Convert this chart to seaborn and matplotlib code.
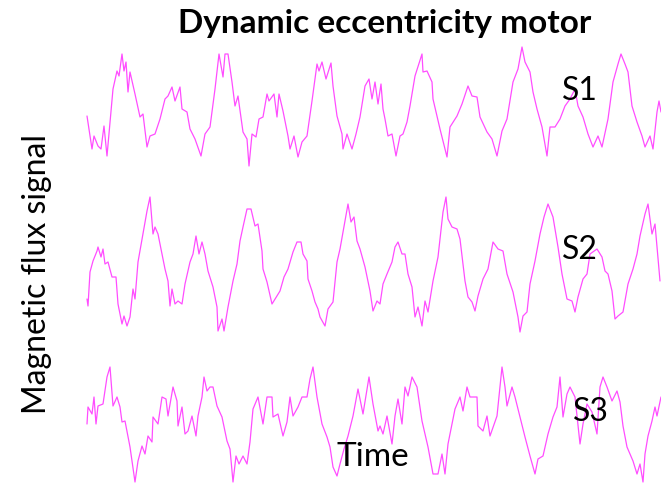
import matplotlib
matplotlib.use("Agg")
import matplotlib.pyplot as plt
import seaborn as sns
import pandas as pd

# ---- data (time in arbitrary units, flux amplitude) ----
s1_time = [87, 92, 94, 98, 101, 104, 107, 113, 117, 119, 122, 124, 126, 128, 130, 135, 140, 143, 147, 150,
           155, 160, 165, 168, 172, 175, 180, 182, 187, 190, 195, 201, 205, 210, 215, 219, 223, 225, 228, 232,
           235, 238, 243, 247, 249, 252, 256, 259, 263, 267, 269, 274, 277, 279, 283, 288, 290, 294, 298, 302,
           307, 312, 317, 319, 322, 326, 331, 333, 337, 342, 343, 347, 352, 356, 360, 365, 369, 372, 375, 378,
           381, 383, 385, 388, 392, 396, 400, 403, 407, 410, 415, 422, 423, 427, 432, 433, 440, 445, 447, 450,
           457, 462, 468, 472, 477, 480, 487, 492, 497, 502, 507, 513, 518, 522, 525, 530, 533, 537, 542, 547,
           550, 555, 560, 565, 570, 575, 578, 583, 588, 593, 598, 602, 608, 613, 618, 621, 625, 628, 632, 637,
           642, 645, 650, 653, 657, 659, 661]
s1_flux = [-7, -40, -27, -37, -40, -17, -47, 20, 38, 33, 55, 38, 47, 17, 37, 15, -8, -5, -38, -27,
           -25, -10, 10, 13, 22, 8, 22, 0, -3, -20, -30, -47, -25, -18, 20, 55, 32, 55, 55, 27,
           3, 13, -23, -30, -57, -25, -28, -10, -8, 15, 8, 15, -8, 15, -2, -27, -40, -27, -48, -33,
           -27, 8, 45, 38, 47, 30, 46, 23, -7, -25, -40, -25, -40, -25, -8, 23, 30, 10, 27, 5,
           25, 0, -10, -27, -25, -47, -27, -25, -13, 3, 33, 55, 37, 38, 27, 10, -20, -40, -48, -18,
           -7, 5, 23, 13, 12, -8, -23, -30, -47, -22, -10, 27, 40, 62, 47, 37, 17, 0, -18, -47,
           -18, -18, -10, 3, 10, 20, 3, -8, -25, -38, -27, -38, -10, 27, 45, 55, 45, 37, 3, -13,
           -27, -38, -27, -40, -3, 8, -3]

s2_time = [87, 88, 90, 93, 97, 98, 101, 103, 105, 108, 112, 116, 118, 122, 124, 127, 130, 133, 135, 138,
           143, 147, 150, 153, 155, 158, 162, 165, 168, 170, 172, 175, 178, 182, 185, 190, 193, 196, 199, 202,
           205, 208, 213, 217, 218, 222, 224, 228, 233, 237, 240, 243, 247, 251, 255, 258, 262, 263, 267, 272,
           277, 280, 284, 288, 293, 297, 301, 303, 307, 308, 312, 315, 318, 320, 325, 328, 333, 337, 340, 345,
           348, 351, 354, 357, 360, 365, 370, 373, 377, 380, 383, 387, 392, 395, 398, 402, 405, 408, 412, 415,
           418, 422, 425, 428, 433, 438, 443, 446, 448, 452, 457, 460, 465, 468, 472, 475, 478, 483, 488, 493,
           498, 503, 507, 513, 518, 520, 523, 527, 530, 535, 540, 544, 548, 553, 558, 562, 567, 572, 575, 578,
           583, 587, 590, 597, 602, 605, 608, 612, 615, 618, 623, 628, 633, 637, 640, 645, 648, 652, 655, 660]
s2_flux = [-32, -39, -5, 6, 16, 20, 10, 18, 3, 5, -10, -10, -37, -57, -49, -59, -50, -22, -32, 5,
           33, 56, 70, 33, 40, 33, 13, -2, -14, -39, -22, -37, -34, -37, -17, 5, 13, 31, 13, 25,
           13, -4, -20, -40, -64, -52, -64, -40, -14, 3, 26, 40, 58, 58, 41, 43, 16, -2, -15, -37,
           -29, -24, -10, -2, 15, 25, 25, 13, 6, -12, -24, -35, -42, -50, -59, -42, -35, 5, 18, 46,
           63, 45, 50, 26, 18, 0, -24, -44, -34, -37, -17, -7, 5, 20, 25, 13, 13, -7, -20, -50,
           -40, -59, -34, -45, -14, 10, 55, 70, 48, 40, 38, 28, -14, -30, -35, -44, -29, -12, -2, 25,
           18, 16, -7, -25, -50, -65, -49, -45, -17, 6, 33, 50, 63, 50, 20, -7, -32, -34, -45, -30,
           -12, -7, 13, 18, 10, -4, -7, -24, -52, -49, -45, -17, -2, 13, 31, 53, 63, 33, 43, -14]

s3_time = [87, 88, 92, 94, 96, 98, 103, 107, 110, 113, 117, 120, 122, 125, 130, 135, 138, 142, 145, 148,
           152, 153, 158, 162, 166, 168, 173, 177, 178, 182, 185, 188, 192, 196, 198, 202, 204, 207, 210, 213,
           217, 222, 227, 230, 233, 236, 239, 243, 247, 250, 253, 258, 263, 267, 272, 273, 278, 283, 287, 290,
           293, 298, 302, 307, 310, 313, 317, 322, 327, 330, 333, 337, 340, 344, 348, 353, 358, 363, 369, 373,
           378, 380, 383, 387, 392, 395, 398, 402, 405, 408, 412, 417, 422, 428, 433, 438, 442, 445, 448, 455,
           460, 463, 467, 470, 477, 478, 483, 487, 490, 497, 502, 505, 507, 512, 515, 520, 525, 530, 535, 538,
           543, 548, 553, 557, 560, 563, 567, 570, 575, 580, 583, 587, 592, 597, 600, 603, 607, 612, 617, 620,
           623, 627, 633, 637, 640, 643, 645, 648, 652, 655, 657, 661]
s3_flux = [0, 17, 10, 27, 0, 18, 20, 47, 57, 18, 27, 17, 2, 3, -23, -58, -37, -22, -30, -12,
           -18, 7, 0, 27, 25, 8, 37, 23, -2, 17, -10, -7, 8, -12, 8, 27, 47, 33, 37, 37,
           18, 7, -17, -25, -58, -32, -40, -32, -40, -18, 15, 27, 0, 27, 27, 7, 10, -12, 2, 27,
           8, 17, 27, 27, 45, 57, 27, 0, -13, -23, -43, -52, -40, -25, -12, 8, 35, 10, 47, 20,
           -7, -2, -10, 8, -20, 8, 25, 0, 37, 28, 47, 37, 3, -23, -50, -50, -30, -50, -20, 15,
           27, 13, 37, 27, 27, -2, -7, 8, -12, 8, 57, 37, 18, 37, 27, 7, -13, -32, -50, -35,
           -32, -10, 7, 17, 47, 7, 30, 37, 27, -20, 0, 20, 12, -10, 37, 47, 37, 23, 33, 22,
           -2, -23, -37, -50, -40, -58, -30, -12, 3, 17, 8, 27]

series_names = ["S1", "S2", "S3"]
title_text = "Dynamic eccentricity motor"
ylabel_text = "Magnetic flux signal"
xlabel_text = "Time"

# ---- layout (pixel frame of the 661x485 canvas) ----
W, H = 661, 485
baselines = {"S1": 110, "S2": 268, "S3": 425}
line_color = "#ff4dff"

frames = []
for name, t, f in zip(series_names, [s1_time, s2_time, s3_time], [s1_flux, s2_flux, s3_flux]):
    df = pd.DataFrame({"time": t, "flux": f})
    df["series"] = name
    df["ypos"] = baselines[name] - df["flux"]
    frames.append(df)
data = pd.concat(frames, ignore_index=True)

sns.set_theme(style="white")
plt.rcParams["font.family"] = ["Lato", "DejaVu Sans"]

fig = plt.figure(figsize=(W / 100, H / 100), dpi=100)
ax = fig.add_axes([0, 0, 1, 1])
sns.lineplot(data=data, x="time", y="ypos", hue="series",
             palette={n: line_color for n in series_names},
             estimator=None, sort=False, linewidth=0.9, legend=False, ax=ax)
ax.set_xlim(0, W)
ax.set_ylim(H, 0)
ax.axis("off")

def px(x, y):
    return x / W, 1 - y / H

fig.text(*px(385, 24), title_text, ha="center", va="center", fontsize=24, fontweight="bold", color="black")
fig.text(*px(37, 274), ylabel_text, ha="center", va="center", rotation=90, fontsize=23, color="black")
fig.text(*px(373, 457), xlabel_text, ha="center", va="center", fontsize=24, color="black")
label_pos = {"S1": (580, 91), "S2": (580, 250), "S3": (591, 412)}
for name in series_names:
    fig.text(*px(*label_pos[name]), name, ha="center", va="center", fontsize=23, color="black")

fig.savefig("out.png", dpi=100)
